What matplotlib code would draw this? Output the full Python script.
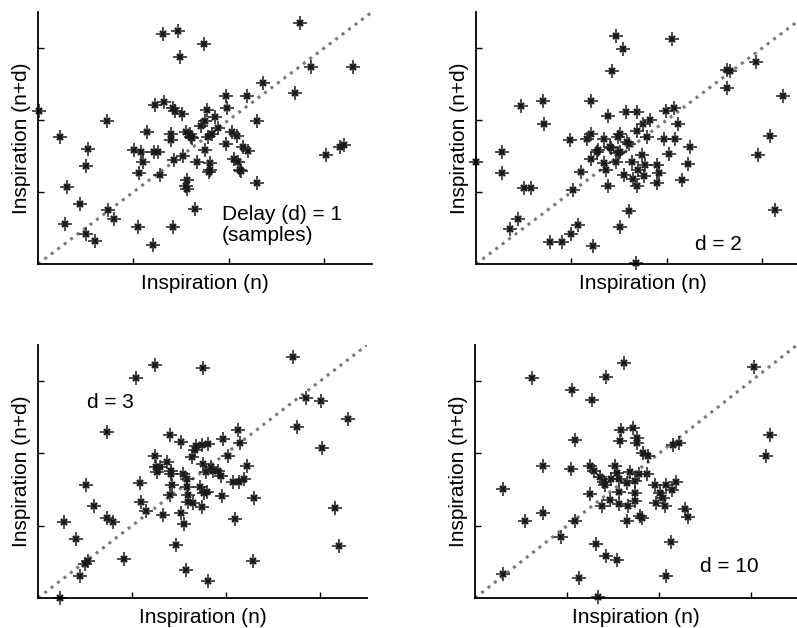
import matplotlib.pyplot as plt

plt.rcParams['font.family'] = ['Liberation Sans', 'DejaVu Sans']

# delay d = 1
x1 = [0.01, 0.23, 0.30, 0.28, 0.44, 0.50, 0.52, 0.50, 0.60, 0.72,
      0.73, 0.80, 1.01, 1.06, 1.08, 1.10, 1.05, 1.14, 1.21, 1.23,
      1.32, 1.22, 1.26, 1.28, 1.31, 1.39, 1.39, 1.41, 1.44, 1.51,
      1.41, 1.42, 1.47, 1.49, 1.52, 1.55, 1.59, 1.60, 1.56, 1.55,
      1.56, 1.64, 1.67, 1.74, 1.71, 1.77, 1.75, 1.78, 1.80, 1.79,
      1.85, 1.89, 1.82, 1.97, 1.98, 1.97, 2.03, 2.09, 2.05, 2.10,
      2.12, 2.15, 2.20, 2.19, 2.30, 2.29, 2.36, 2.69, 2.75, 2.86,
      3.02, 3.16, 3.21, 3.30, 1.61, 1.80, 2.13, 1.75]
y1 = [2.13, 1.76, 1.07, 0.56, 0.83, 1.36, 1.60, 0.41, 0.32, 1.98,
      0.75, 0.62, 1.59, 1.26, 1.55, 1.42, 0.52, 1.84, 0.26, 2.21,
      2.25, 1.56, 1.56, 1.24, 3.19, 1.81, 1.72, 2.17, 2.13, 2.08,
      0.52, 1.45, 3.24, 2.88, 1.50, 1.84, 1.80, 1.77, 1.17, 1.08,
      1.04, 0.77, 1.42, 3.06, 1.91, 2.14, 1.59, 1.77, 1.40, 1.28,
      2.04, 1.89, 1.80, 2.34, 2.17, 1.67, 1.83, 1.78, 1.46, 1.42,
      1.30, 1.63, 1.57, 2.34, 1.99, 1.13, 2.51, 2.38, 3.35, 2.73,
      1.52, 1.63, 1.65, 2.73, 1.75, 1.31, 1.29, 1.98]

# d = 2
x2 = [0.00, 0.27, 0.27, 0.47, 0.50, 0.58, 0.70, 0.71, 0.44, 0.36,
      0.78, 0.90, 1.00, 1.07, 0.99, 1.02, 1.10, 1.20, 1.21, 1.16,
      1.20, 1.23, 1.27, 1.28, 1.34, 1.34, 1.36, 1.38, 1.38, 1.40,
      1.42, 1.47, 1.54, 1.47, 1.49, 1.51, 1.51, 1.55, 1.57, 1.60,
      1.60, 1.63, 1.68, 1.69, 1.69, 1.69, 1.70, 1.74, 1.75, 1.76,
      1.79, 1.82, 1.77, 1.90, 1.90, 1.92, 1.97, 1.99, 2.02, 2.05,
      2.08, 2.09, 2.12, 2.16, 2.24, 2.22, 2.63, 2.66, 2.63, 2.93,
      2.96, 3.08, 3.13, 3.22, 1.51, 1.58, 1.41, 1.49, 1.65]
y2 = [1.42, 1.56, 1.26, 2.19, 1.06, 1.06, 2.26, 1.94, 0.62, 0.48,
      0.31, 0.31, 0.41, 0.54, 1.72, 1.03, 1.28, 2.27, 1.81, 1.73,
      1.46, 0.25, 1.56, 1.58, 1.73, 1.40, 1.31, 1.08, 2.06, 1.63,
      2.68, 3.16, 2.99, 1.41, 1.77, 1.55, 0.51, 1.24, 2.11, 0.73,
      1.67, 1.41, 0.01, 1.08, 2.11, 1.85, 1.31, 1.52, 1.94, 1.22,
      1.77, 2.00, 1.38, 1.38, 1.13, 1.26, 1.74, 2.12, 1.53, 3.12,
      2.16, 1.74, 1.94, 1.16, 1.62, 1.39, 2.70, 2.68, 2.44, 2.81,
      1.52, 1.78, 0.75, 2.33, 1.81, 1.69, 1.61, 1.54, 1.18]

# d = 3
x3 = [0.23, 0.28, 0.40, 0.45, 0.50, 0.53, 0.51, 0.60, 0.73, 0.73,
      0.80, 0.92, 1.04, 1.08, 1.10, 1.15, 1.24, 1.24, 1.26, 1.27,
      1.33, 1.37, 1.40, 1.40, 1.42, 1.43, 1.47, 1.52, 1.54, 1.55,
      1.57, 1.58, 1.60, 1.60, 1.64, 1.68, 1.74, 1.76, 1.72, 1.74,
      1.76, 1.79, 1.80, 1.81, 1.81, 1.84, 1.86, 1.95, 1.96, 1.97,
      2.02, 2.07, 2.10, 2.13, 2.15, 2.14, 2.19, 2.22, 2.29, 2.30,
      2.71, 2.76, 2.85, 3.01, 3.02, 3.16, 3.20, 3.30,
      1.67, 1.30, 1.41, 1.58, 1.65, 1.77, 1.91, 1.52]
y3 = [0.00, 1.05, 0.81, 0.30, 0.47, 0.51, 1.57, 1.27, 2.29, 1.11,
      1.05, 0.54, 3.04, 1.59, 1.33, 1.20, 3.23, 1.96, 1.81, 1.74,
      1.15, 1.88, 2.25, 1.42, 1.76, 1.57, 0.74, 2.16, 1.72, 1.03,
      0.39, 1.53, 1.42, 1.33, 1.95, 2.10, 2.11, 3.18, 1.53, 1.26,
      1.86, 1.74, 1.47, 2.13, 0.24, 1.81, 1.76, 1.69, 1.41, 2.20,
      1.97, 1.61, 1.09, 2.32, 2.14, 1.61, 1.65, 1.82, 0.51, 1.38,
      3.33, 2.36, 2.77, 2.72, 2.07, 1.25, 0.72, 2.48,
      2.05, 1.81, 1.72, 1.64, 1.31, 1.45, 1.76, 1.17]

# d = 10
x4 = [0.30, 0.30, 0.54, 0.62, 0.74, 0.74, 0.94, 1.04, 1.05, 1.09,
      1.09, 1.13, 1.25, 1.25, 1.27, 1.32, 1.34, 1.38, 1.40, 1.41,
      1.42, 1.42, 1.47, 1.52, 1.54, 1.54, 1.56, 1.56, 1.57, 1.58,
      1.59, 1.62, 1.65, 1.65, 1.69, 1.72, 1.74, 1.74, 1.76, 1.76,
      1.78, 1.79, 1.81, 1.83, 1.87, 1.88, 1.96, 1.97, 2.01, 2.07,
      2.08, 2.08, 2.13, 2.14, 2.15, 2.19, 2.22, 2.28, 2.31, 3.03,
      3.16, 3.21, 1.74, 1.36, 1.48, 1.29, 1.66, 2.04]
y4 = [1.51, 0.33, 1.07, 3.04, 1.83, 1.18, 0.84, 1.79, 2.88, 2.19,
      1.07, 0.28, 1.83, 1.44, 2.74, 0.75, 0.02, 1.27, 1.61, 1.57,
      3.06, 0.58, 1.36, 1.83, 1.73, 0.53, 1.65, 1.47, 1.30, 2.17,
      2.33, 3.25, 1.59, 1.06, 1.75, 2.35, 1.45, 1.34, 2.21, 2.14,
      1.71, 1.13, 1.11, 2.00, 1.71, 1.97, 1.57, 1.32, 1.45, 1.27,
      0.31, 1.57, 0.77, 1.50, 2.12, 1.60, 2.14, 1.23, 1.12, 3.20,
      1.97, 2.26, 1.62, 1.68, 1.64, 1.76, 1.27, 1.38]

labels = ['Delay (d) = 1\n(samples)', 'd = 2', 'd = 3', 'd = 10']
label_pos = [(1.93, 0.54), (2.30, 0.27), (0.52, 2.71), (2.45, 0.43)]

W, H = 797, 628
# axes boxes in pixels: left, top, width, height
boxes = [(38, 12, 334, 252), (476, 12, 334, 252),
         (38, 345, 329, 253), (475, 345, 322, 253)]

fig = plt.figure(figsize=(W / 100, H / 100), dpi=100)

for (xs, ys), txt, (tx, ty), (l, t, w, h) in zip(
        [(x1, y1), (x2, y2), (x3, y3), (x4, y4)], labels, label_pos, boxes):
    ax = fig.add_axes([l / W, 1 - (t + h) / H, w / W, h / H])
    ax.plot([0, 3.5], [0, 3.5], ls=':', color='#7a7a7a', lw=2.2)
    # matlab-style '*' marker: long thin plus with a small x on top
    ax.plot(xs, ys, ls='none', marker='+', ms=10.5, mew=1.1,
            color='#1a1a1a', clip_on=False)
    ax.plot(xs, ys, ls='none', marker='x', ms=4.5, mew=1.7,
            color='#1a1a1a', clip_on=False)
    ax.set_xlim(0, 3.5)
    ax.set_ylim(0, 3.5)
    ax.set_xticks([1, 2, 3])
    ax.set_yticks([1, 2, 3])
    ax.tick_params(direction='in', length=4, width=1,
                   labelbottom=False, labelleft=False)
    for s in ['top', 'right']:
        ax.spines[s].set_visible(False)
    for s in ['left', 'bottom']:
        ax.spines[s].set_linewidth(1.3)
    ax.set_xlabel('Inspiration (n)', fontsize=15, labelpad=7)
    ax.set_ylabel('Inspiration (n+d)', fontsize=15, labelpad=5)
    ax.text(tx, ty, txt, fontsize=15, va='center', ha='left', linespacing=1.1)

fig.savefig('out.png', dpi=100)
